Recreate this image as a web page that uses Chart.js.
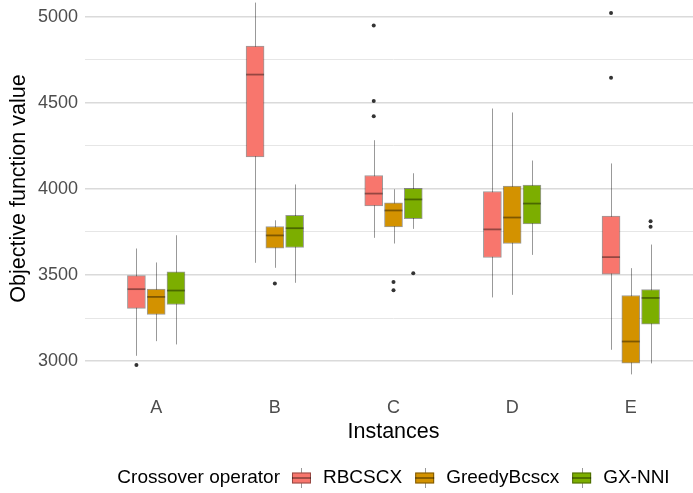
<!DOCTYPE html>
<html>
<head>
<meta charset="utf-8">
<script src="https://cdn.jsdelivr.net/npm/chart.js@4.4.0/dist/chart.umd.min.js"></script>
<style>
  html, body { margin: 0; padding: 0; background: #fff; overflow: hidden; width: 693px; height: 493px; }
  /* the ggplot panel runs past the top and right edges of the picture */
  canvas { display: block; margin-top: -16px; }
</style>
</head>
<body>
<canvas id="chart" width="702" height="509"></canvas>
<script>
const categories = ['A', 'B', 'C', 'D', 'E'];
const seriesNames = ['RBCSCX', 'GreedyBcscx', 'GX-NNI'];
const seriesColors = ['#F8766D', '#D39200', '#7CAE00'];
const legendTitle = 'Crossover operator';

// RBCSCX
const rbcLow = [3031, 3571, 3716, 3370, 3066];
const rbcQ1 = [3306, 4186, 3902, 3602, 3505];
const rbcMed = [3418, 4664, 3973, 3765, 3604];
const rbcQ3 = [3497, 4830, 4078, 3985, 3842];
const rbcHigh = [3654, 5082, 4283, 4467, 4148];
const rbcOut = [[2977], [], [4949, 4511, 4422], [], [5022, 4645]];

// GreedyBcscx
const greedyLow = [3116, 3542, 3683, 3385, 2923];
const greedyQ1 = [3271, 3656, 3780, 3683, 2988];
const greedyMed = [3373, 3730, 3875, 3834, 3114];
const greedyQ3 = [3418, 3782, 3919, 4016, 3381];
const greedyHigh = [3573, 3818, 3998, 4444, 3540];
const greedyOut = [[], [3451], [3460, 3412], [], []];

// GX-NNI
const gxLow = [3097, 3455, 3768, 3617, 2987];
const gxQ1 = [3329, 3660, 3828, 3797, 3215];
const gxMed = [3410, 3772, 3939, 3915, 3367];
const gxQ3 = [3518, 3846, 4003, 4023, 3416];
const gxHigh = [3731, 4026, 4091, 4165, 3677];
const gxOut = [[], [], [3511], [], [3813, 3780]];

const yLabelTicks = [3000, 3500, 4000, 4500, 5000];
const yMinorTicks = [3250, 3750, 4250, 4750];

const FONT = '"Liberation Sans", Arial, sans-serif';
const OUTLINE = 'rgba(0,0,0,0.4)';
const DODGE = 1 / 6;

const stats = [
  { low: rbcLow, q1: rbcQ1, med: rbcMed, q3: rbcQ3, high: rbcHigh, out: rbcOut },
  { low: greedyLow, q1: greedyQ1, med: greedyMed, q3: greedyQ3, high: greedyHigh, out: greedyOut },
  { low: gxLow, q1: gxQ1, med: gxMed, q3: gxQ3, high: gxHigh, out: gxOut }
];

const datasets = [];
stats.forEach((s, si) => {
  const off = (si - 1) * DODGE;
  datasets.push({
    type: 'bar',
    label: seriesNames[si],
    stats: s,
    data: categories.map((c, i) => ({ x: i + off, y: [s.q1[i], s.q3[i]] })),
    backgroundColor: seriesColors[si],
    borderColor: OUTLINE,
    borderWidth: 1,
    borderSkipped: false,
    barThickness: 18,
    grouped: false
  });
});
stats.forEach((s, si) => {
  const off = (si - 1) * DODGE;
  const pts = [];
  s.out.forEach((vals, i) => vals.forEach(v => pts.push({ x: i + off, y: v })));
  datasets.push({
    type: 'scatter',
    label: seriesNames[si] + ' outliers',
    data: pts,
    pointRadius: 2,
    pointBackgroundColor: '#333333',
    pointBorderWidth: 0
  });
});

function drawStats(chart, part) {
  const ctx = chart.ctx;
  const y = chart.scales.y;
  ctx.save();
  ctx.strokeStyle = OUTLINE;
  chart.data.datasets.forEach((ds, di) => {
    if (!ds.stats) return;
    chart.getDatasetMeta(di).data.forEach((bar, i) => {
      ctx.beginPath();
      if (part === 'whisker') {
        const x = Math.round(bar.x) + 0.5;
        ctx.lineWidth = 1;
        ctx.moveTo(x, y.getPixelForValue(ds.stats.low[i]));
        ctx.lineTo(x, y.getPixelForValue(ds.stats.high[i]));
      } else {
        const yy = y.getPixelForValue(ds.stats.med[i]);
        ctx.lineWidth = 1.8;
        ctx.moveTo(bar.x - bar.width / 2, yy);
        ctx.lineTo(bar.x + bar.width / 2, yy);
      }
      ctx.stroke();
    });
  });
  ctx.restore();
}

const boxParts = {
  id: 'boxParts',
  beforeDatasetsDraw(chart) { drawStats(chart, 'whisker'); },
  afterDatasetsDraw(chart) { drawStats(chart, 'median'); }
};

const boxLegend = {
  id: 'boxLegend',
  afterDraw(chart) {
    const ctx = chart.ctx;
    const cy = chart.height - 15;
    const keyW = 19, keyH = 11, titleGap = 12, keyGap = 12, itemGap = 13;
    ctx.save();
    ctx.font = '19px ' + FONT;
    ctx.textBaseline = 'middle';
    ctx.fillStyle = '#000';
    const titleW = ctx.measureText(legendTitle).width;
    const labelW = seriesNames.map(n => ctx.measureText(n).width);
    let total = titleW + titleGap + itemGap * (seriesNames.length - 1);
    labelW.forEach(w => { total += keyW + keyGap + w; });
    const area = chart.chartArea;
    let x = (area.left + area.right) / 2 - total / 2;
    ctx.fillText(legendTitle, x, cy);
    x += titleW + titleGap;
    seriesNames.forEach((name, si) => {
      const cx = Math.round(x + keyW / 2) + 0.5;
      ctx.strokeStyle = OUTLINE;
      ctx.lineWidth = 1;
      ctx.beginPath();
      ctx.moveTo(cx, cy - 10);
      ctx.lineTo(cx, cy + 10);
      ctx.stroke();
      ctx.fillStyle = seriesColors[si];
      ctx.fillRect(x, cy - keyH / 2, keyW, keyH);
      ctx.strokeRect(x + 0.5, cy - keyH / 2 + 0.5, keyW - 1, keyH - 1);
      ctx.lineWidth = 1.8;
      ctx.beginPath();
      ctx.moveTo(x, cy);
      ctx.lineTo(x + keyW, cy);
      ctx.stroke();
      ctx.fillStyle = '#000';
      ctx.fillText(name, x + keyW + keyGap, cy);
      x += keyW + keyGap + labelW[si] + itemGap;
    });
    ctx.restore();
  }
};

Chart.defaults.font.family = FONT;

new Chart(document.getElementById('chart').getContext('2d'), {
  type: 'bar',
  data: { datasets },
  plugins: [boxParts, boxLegend],
  options: {
    responsive: false,
    animation: false,
    devicePixelRatio: 1,
    layout: { autoPadding: false, padding: { top: 0, right: 0, left: 0, bottom: 47 } },
    plugins: {
      legend: { display: false },
      tooltip: { enabled: false }
    },
    scales: {
      x: {
        type: 'linear',
        offset: false,
        min: -0.6,
        max: 4.6,
        grid: { display: false, drawTicks: false },
        border: { display: false },
        afterBuildTicks: scale => { scale.ticks = categories.map((c, i) => ({ value: i })); },
        afterFit: scale => { scale.height = 53; scale.paddingLeft = 0; scale.paddingRight = 0; },
        ticks: {
          padding: 4,
          color: '#4D4D4D',
          font: { size: 18 },
          maxRotation: 0,
          autoSkip: false,
          callback: v => categories[v]
        },
        title: {
          display: true,
          text: 'Instances',
          color: '#000',
          font: { size: 21.5 },
          padding: { top: 0, bottom: 1 }
        }
      },
      y: {
        min: 2815,
        max: 5190,
        grid: {
          drawTicks: false,
          color: c => yLabelTicks.includes(c.tick.value) ? '#DADADA' : '#E6E6E6',
          lineWidth: c => yLabelTicks.includes(c.tick.value) ? 1.6 : 1
        },
        border: { display: false },
        afterBuildTicks: scale => {
          scale.ticks = yLabelTicks.concat(yMinorTicks).sort((a, b) => a - b).map(v => ({ value: v }));
        },
        afterFit: scale => { scale.width = 85; scale.paddingTop = 0; scale.paddingBottom = 0; },
        ticks: {
          padding: 7,
          color: '#4D4D4D',
          font: { size: 18 },
          autoSkip: false,
          callback: v => yLabelTicks.includes(v) ? String(v) : ''
        },
        title: {
          display: true,
          text: 'Objective function value',
          color: '#000',
          font: { size: 21.5 },
          padding: { top: 6, bottom: 0 }
        }
      }
    }
  }
});
</script>
</body>
</html>
